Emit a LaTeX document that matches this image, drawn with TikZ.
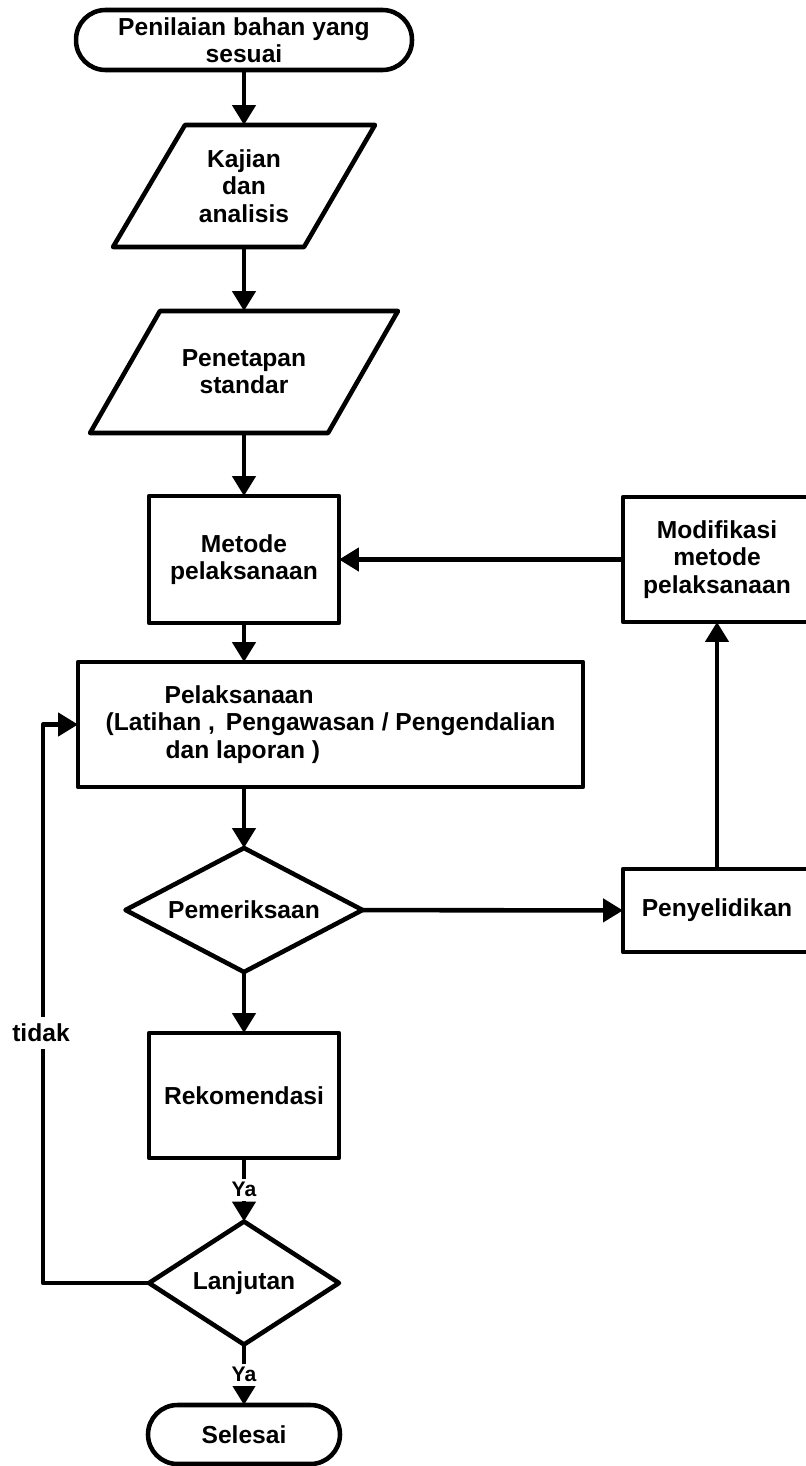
\documentclass[tikz,border=0pt]{standalone}
\usepackage{fontspec}
\setmainfont{Liberation Sans}
\usetikzlibrary{arrows.meta}
\usetikzlibrary{shapes}

\tikzset{
  proc/.style={draw, rectangle},
  term/.style={draw, rectangle, rounded corners=0.59cm},
  dec/.style={draw, diamond, aspect=2},
  io/.style={rectangle},
  arr/.style={-{Triangle[length=0.4cm, width=0.46cm]}},
  lbl/.style={fill=white, inner sep=2pt, font=\fontsize{12}{14}\selectfont\bfseries}
}

\begin{document}
\begin{tikzpicture}[x=0.02cm, y=-0.02cm, line width=2.6pt, line join=round,
    every node/.style={font=\fontsize{14}{15.5}\selectfont\bfseries, align=center, inner sep=0pt, outer sep=0pt}]
        \useasboundingbox (0,0) rectangle (805,1466);
        % main column
        \node[term, minimum width=6.72cm, minimum height=1.2cm] (mulai) at (244,40) {Penilaian bahan yang\\sesuai};
        \node[io, minimum width=5.24cm, minimum height=2.44cm] (kajian) at (244,186) {Kajian\\dan\\analisis};
        \draw (kajian.south west) -- ++(191,0) -- (kajian.north east) -- ++(-190,0) -- cycle;
        \node[io, minimum width=6.16cm, minimum height=2.44cm] (tetap) at (244,372) {Penetapan\\standar};
        \draw (tetap.south west) -- ++(238,0) -- (tetap.north east) -- ++(-238,0) -- cycle;
        \node[proc, minimum width=3.8cm, minimum height=2.54cm] (metode) at (244,559.5) {Metode\\pelaksanaan};
        \node[proc, minimum width=10.1cm, minimum height=2.5cm, align=left] (pelak) at (330.5,724.5)
          {\hspace*{1.18cm}Pelaksanaan\\(Latihan ,\, Pengawasan / Pengendalian\\\hspace*{1.2cm}dan laporan )};
        \node[dec, minimum width=4.74cm, minimum height=2.48cm] (periksa) at (244,910) {Pemeriksaan};
        \node[proc, minimum width=3.8cm, minimum height=2.5cm] (rekom) at (244,1095.5) {Rekomendasi};
        \node[dec, minimum width=3.8cm, minimum height=2.46cm] (lanjut) at (244,1283) {Lanjutan};
        \node[term, minimum width=3.84cm, minimum height=1.18cm] (selesai) at (244,1434.5) {Selesai};
        % right column
        \node[proc, minimum width=3.76cm, minimum height=2.5cm] (modif) at (717,559.5) {Modifikasi\\metode\\pelaksanaan};
        \node[proc, minimum width=3.76cm, minimum height=1.66cm] (selidik) at (717,910.5) {Penyelidikan};
        % arrows
        \draw[arr] (mulai) -- (kajian);
        \draw[arr] (kajian) -- (tetap);
        \draw[arr] (tetap) -- (metode);
        \draw[arr] (metode) -- (metode |- pelak.north);
        \draw[arr] (periksa |- pelak.south) -- (periksa);
        \draw[arr] (periksa) -- (rekom);
        \draw[arr] (periksa) -- (selidik);
        \draw[arr] (selidik) -- (modif);
        \draw[arr] (modif) -- (metode);
        \draw[arr] (rekom) -- node[lbl] (ya1) {Ya} (lanjut);
        \draw[arr] (lanjut) -- node[lbl] (ya2) {Ya} (selesai);
        % loop back
        \coordinate (kiri) at (43,1283);
        \coordinate (kiriatas) at (43,724.5);
        \draw[arr] (lanjut.west) -- (kiri) -- (kiriatas) -- (pelak.west);
        \node[fill=white, inner sep=4pt] (tidak) at (41,1033) {tidak};
      \end{tikzpicture}
\end{document}
